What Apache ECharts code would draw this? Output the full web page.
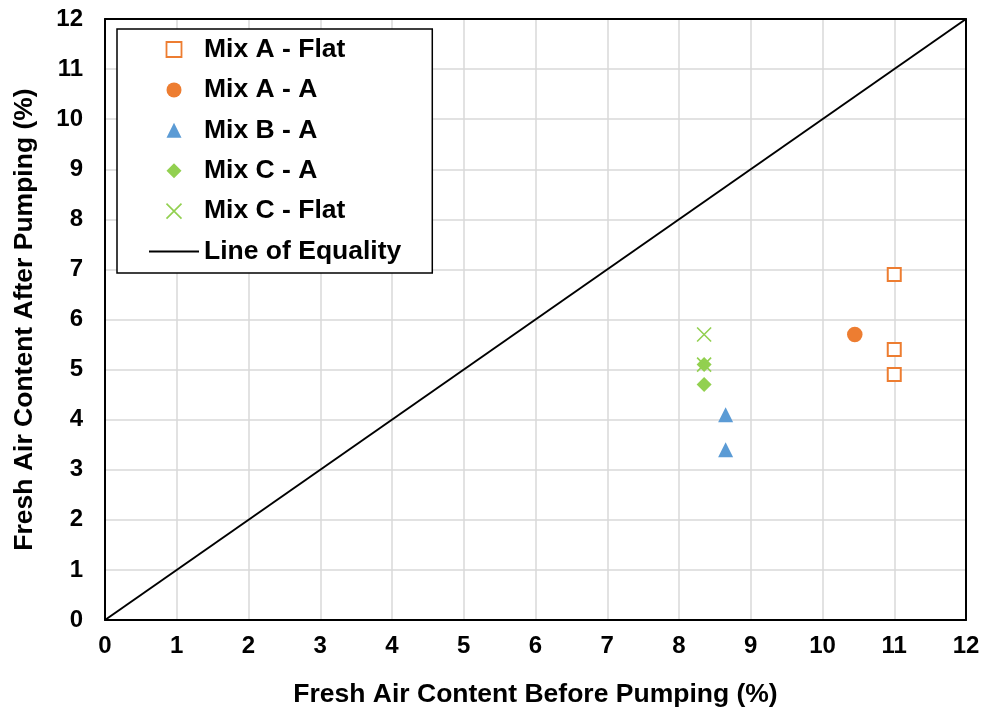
<!DOCTYPE html>
<html><head><meta charset="utf-8">
<script src="https://cdn.jsdelivr.net/npm/echarts@6/dist/echarts.min.js"></script>
<style>html,body{margin:0;padding:0;background:#fff}#c{width:985px;height:713px}</style>
</head><body><div id="c"></div>
<script>
const ticks = [0,1,2,3,4,5,6,7,8,9,10,11,12];
const mixAFlat = [[11.0,6.9],[11.0,5.4],[11.0,4.9]];
const mixAA = [[10.45,5.7]];
const mixBA = [[8.65,4.1],[8.65,3.4]];
const mixCA = [[8.35,5.1],[8.35,4.7]];
const mixCFlat = [[8.35,5.7],[8.35,5.1]];
const equality = [[0,0],[12,12]];
const names = ['Mix A - Flat','Mix A - A','Mix B - A','Mix C - A','Mix C - Flat','Line of Equality'];

const ORANGE = '#ED7D31', BLUE = '#5B9BD5', GREEN = '#92D050';
const FONT = 'Liberation Sans, Arial, sans-serif';
const chart = echarts.init(document.getElementById('c'));
const axisCommon = {
  type:'value', min: ticks[0], max: ticks[ticks.length-1], interval: 1,
  axisLine:{show:true, onZero:false, lineStyle:{color:'#000', width:2}},
  axisTick:{show:false},
  splitLine:{show:true, lineStyle:{color:'#D9D9D9', width:1.5}},
  nameLocation:'middle',
  nameTextStyle:{fontFamily:FONT, fontWeight:'bold', fontSize:26.5, color:'#000'},
  axisLabel:{fontFamily:FONT, fontWeight:'bold', fontSize:24, color:'#000'}
};
const frameAxis = {
  type:'value', min: ticks[0], max: ticks[ticks.length-1], interval: 1,
  axisLine:{show:true, onZero:false, lineStyle:{color:'#000', width:2}},
  axisTick:{show:false}, axisLabel:{show:false}, splitLine:{show:false}
};
const crossPath = 'path://M0,0L10,10M10,0L0,10';
chart.setOption({
  animation:false,
  backgroundColor:'#fff',
  grid:{left:105, right:19, top:19, bottom:92},
  xAxis:[
    Object.assign({}, axisCommon, {name:'Fresh Air Content Before Pumping (%)', nameGap:61,
      axisLabel:Object.assign({}, axisCommon.axisLabel, {margin:14})}),
    Object.assign({}, frameAxis, {position:'top'})
  ],
  yAxis:[
    Object.assign({}, axisCommon, {name:'Fresh Air Content After Pumping (%)', nameGap:67,
      axisLabel:Object.assign({}, axisCommon.axisLabel, {margin:22})}),
    Object.assign({}, frameAxis, {position:'right'})
  ],
  legend:{
    orient:'vertical', left:117, top:29,
    data:[
      {name:names[0], icon:'path://M0,0L10,0L10,10L0,10Z', itemStyle:{color:'#fff', borderColor:ORANGE, borderWidth:1.8}},
      {name:names[1], icon:'circle'},
      {name:names[2], icon:'path://M5,0L10,10L0,10Z'},
      {name:names[3], icon:'path://M5,0L10,5L5,10L0,5Z'},
      {name:names[4], icon:crossPath, itemStyle:{color:'transparent', borderColor:GREEN, borderWidth:1.6}},
      {name:names[5], icon:'path://M0,0L50,0L50,2L0,2Z'}
    ],
    backgroundColor:'#fff', borderColor:'#000', borderWidth:1.5,
    padding:[7,31,8,32], itemWidth:50, itemHeight:15, itemGap:13.4,
    symbolKeepAspect:true,
    textStyle:{fontFamily:FONT, fontWeight:'bold', fontSize:26.5, color:'#000', lineHeight:26}
  },
  series:[
    {name:names[0], type:'scatter', data:mixAFlat, symbol:'emptyRect', symbolSize:13,
      itemStyle:{color:ORANGE, borderWidth:1.8, opacity:1}},
    {name:names[1], type:'scatter', data:mixAA, symbol:'circle', symbolSize:15.5,
      itemStyle:{color:ORANGE, opacity:1}},
    {name:names[2], type:'scatter', data:mixBA, symbol:'triangle', symbolSize:15,
      itemStyle:{color:BLUE, opacity:1}},
    {name:names[3], type:'scatter', data:mixCA, symbol:'diamond', symbolSize:15,
      itemStyle:{color:GREEN, opacity:1}},
    {name:names[4], type:'scatter', data:mixCFlat, symbol:crossPath, symbolSize:14,
      itemStyle:{color:'transparent', borderColor:GREEN, borderWidth:1.6, opacity:1}},
    {name:names[5], type:'line', data:equality, symbol:'none', z:1,
      lineStyle:{color:'#000', width:2}, itemStyle:{color:'#000'}}
  ]
});
</script></body></html>
